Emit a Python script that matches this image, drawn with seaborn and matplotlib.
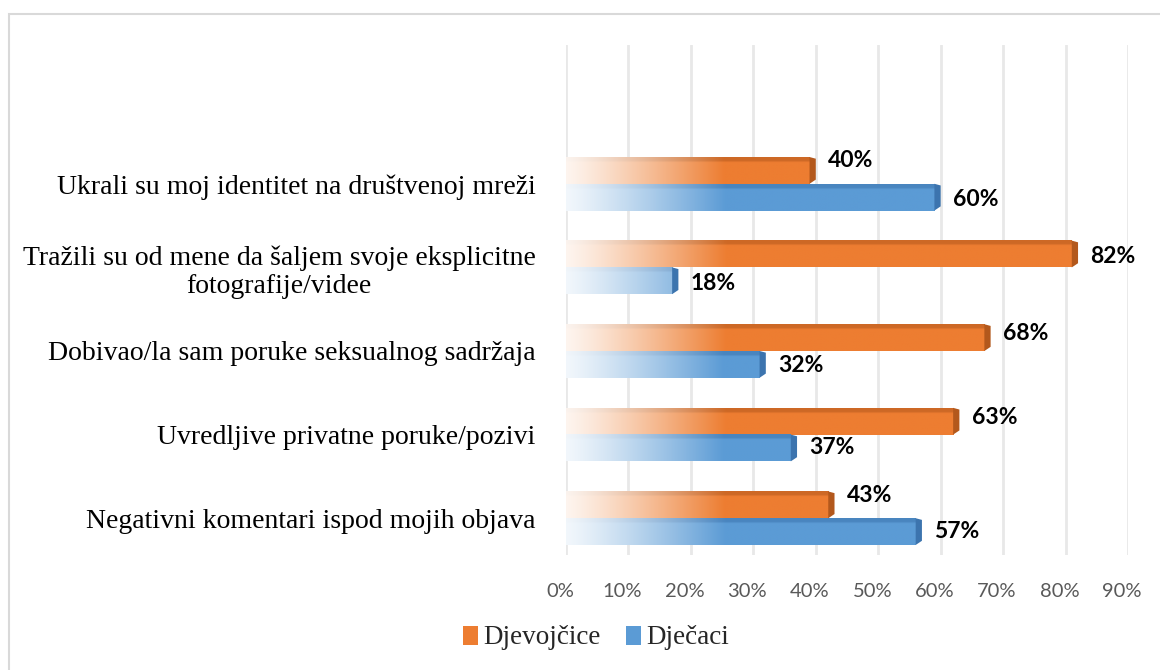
import numpy as np
import pandas as pd
import seaborn as sns
import matplotlib.pyplot as plt
from matplotlib.patches import Rectangle, Patch, Polygon
from matplotlib.colors import to_rgb
from matplotlib.transforms import ScaledTranslation

# podaci
kategorije = [
    "Ukrali su moj identitet na društvenoj mreži",
    "Tražili su od mene da šaljem svoje eksplicitne\nfotografije/videe",
    "Dobivao/la sam poruke seksualnog sadržaja",
    "Uvredljive privatne poruke/pozivi",
    "Negativni komentari ispod mojih objava",
]
djevojcice = [40, 82, 68, 63, 43]
djecaci = [60, 18, 32, 37, 57]
serije = ["Djevojčice", "Dječaci"]
boje = {"Djevojčice": "#ED7D31", "Dječaci": "#5B9BD5"}
tamne = {"Djevojčice": "#B3581C", "Dječaci": "#3C74AE"}
# vertikalni pomak oznaka (u točkama), kao u Excelu
pomak = {"Djevojčice": [7, -2, 3, 3, 7], "Dječaci": [-1.5, -2, -1, 0, 0]}

df = pd.DataFrame({
    "kategorija": kategorije * 2,
    "spol": [serije[0]] * 5 + [serije[1]] * 5,
    "posto": djevojcice + djecaci,
})

sns.set_style("white")
fig = plt.figure(figsize=(11.6, 6.7), dpi=100)
ax = fig.add_axes([566 / 1160, 1 - 555 / 670, (1128 - 566) / 1160, (555 - 45) / 670])

sns.barplot(data=df, y="kategorija", x="posto", hue="spol", palette=boje,
            orient="h", width=0.64, legend=False, ax=ax, errorbar=None)

# gradijent + "3D" rub, oznake vrijednosti
for cont, s in zip(ax.containers, serije):
    c = np.array(to_rgb(boje[s]))
    d = np.array(to_rgb(tamne[s]))
    for p, v, dy in zip(cont.patches, cont.datavalues, pomak[s]):
        w = p.get_width()
        y0 = p.get_y()
        h = p.get_height()
        p.set_visible(False)
        xs = np.linspace(0, w, 300)
        t = np.clip(xs / 26, 0, 1) ** 1.2 * 0.92 + 0.08
        front = (1 - t[:, None]) + t[:, None] * c
        top = (1 - t[:, None]) + t[:, None] * (0.45 * c + 0.55 * d)
        img = np.stack([top] * 2 + [front] * 10)
        ax.imshow(img, extent=[0, w - 1.0, y0 + h, y0], aspect="auto",
                  zorder=2, interpolation="bilinear")
        ax.add_patch(Polygon([(w - 1.0, y0 + h), (w - 1.0, y0), (w, y0 + 0.02),
                              (w, y0 + h - 0.05)], closed=True,
                             facecolor=d, edgecolor="none", zorder=3))
        ax.annotate(f"{v:.0f}%", (w, y0 + h / 2), xytext=(9, dy),
                    textcoords="offset points", ha="left", va="center",
                    fontsize=16.5, fontweight="bold", family="Lato",
                    color="black")

ax.set_xlim(0, 90)
ax.set_ylim(4.44, -1.66)
ax.set_xticks(range(0, 100, 10))
ax.set_xticklabels([f"{v}%" for v in range(0, 100, 10)], family="Lato",
                   fontsize=14.5, color="#595959")
ax.tick_params(axis="x", length=0, pad=20)
ax.tick_params(axis="y", length=0, pad=22)
pomak_x = ScaledTranslation(-6 / 100, 0, fig.dpi_scale_trans)
for lab in ax.get_xticklabels():
    lab.set_transform(lab.get_transform() + pomak_x)
for lab in ax.get_yticklabels():
    lab.set_family("Liberation Serif")
    lab.set_fontsize(20)
    lab.set_color("black")
    lab.set_horizontalalignment("right")
    lab.set_multialignment("center")
ax.grid(axis="x", color="#e8e8e8", linewidth=2)
ax.grid(axis="y", visible=False)
ax.set_axisbelow(True)
for sp in ax.spines.values():
    sp.set_visible(False)
ax.set_xlabel("")
ax.set_ylabel("")

# okvir
fig.patches.append(Rectangle((9 / 1160, -0.05), 1.1, 1 - 14 / 670 + 0.05,
                             transform=fig.transFigure, fill=False,
                             edgecolor="#d9d9d9", linewidth=1.5))

ruke = [Patch(facecolor=boje[s], edgecolor="none", label=s) for s in serije]
leg = fig.legend(handles=ruke, loc="center", bbox_to_anchor=(596 / 1160, 1 - 638 / 670),
                 ncol=2, frameon=False, handlelength=0.55, handleheight=0.7,
                 handletextpad=0.2, columnspacing=0.95, fontsize=19.5)
for txt in leg.get_texts():
    txt.set_family("Liberation Serif")

fig.savefig("out.png", dpi=100)
